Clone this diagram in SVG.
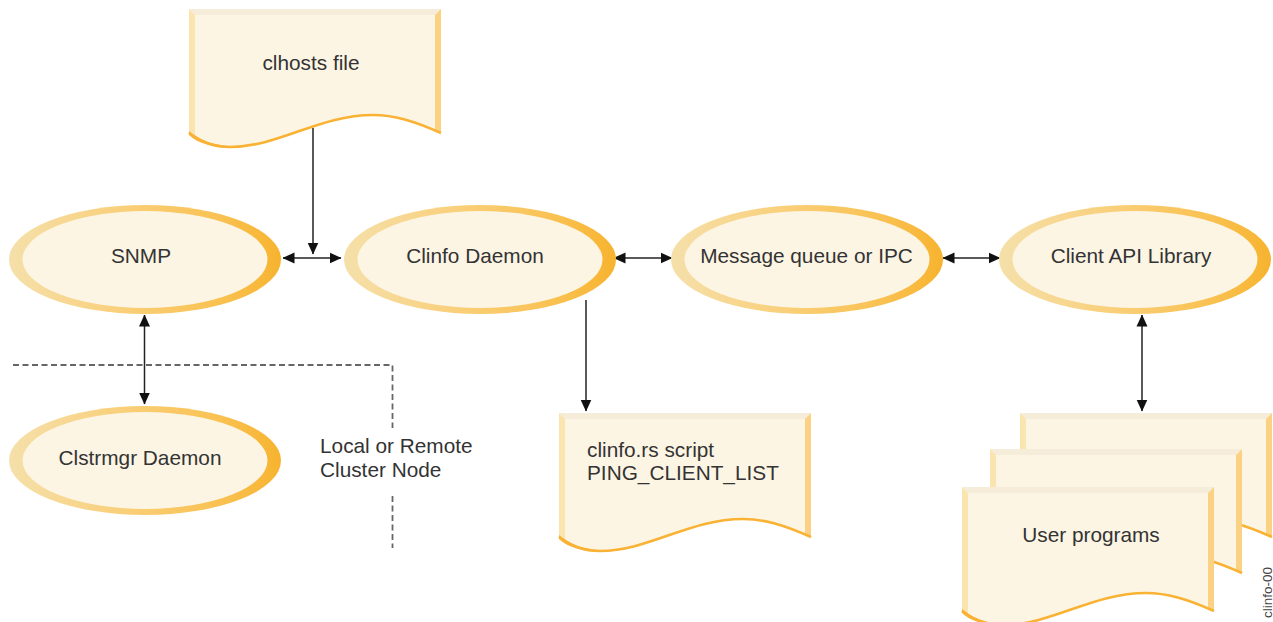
<svg xmlns="http://www.w3.org/2000/svg" width="1273" height="622" viewBox="0 0 1273 622">
<style>
text{font-family:"Liberation Sans",Arial,sans-serif;font-size:20.800px;fill:#333}
.m{text-anchor:middle}
.conn{fill:none;stroke:#222;stroke-width:1.500}
.dash{fill:none;stroke:#666;stroke-width:1.800;stroke-dasharray:6 3.500}
.inner{fill:#fdf5e4}
.outer{fill:url(#ring)}
</style>
<defs>
<linearGradient id="ring" x1="0" y1="0" x2="1" y2="0">
<stop offset="0" stop-color="#f5e0aa"/><stop offset=".4" stop-color="#f9d07c"/><stop offset=".8" stop-color="#f9c04e"/><stop offset="1" stop-color="#f7b32f"/>
</linearGradient>
<marker id="a" viewBox="0 0 12 12" refX="11.500" refY="6" markerWidth="12" markerHeight="12" markerUnits="userSpaceOnUse" orient="auto-start-reverse"><path d="M0,0.500 L12,6 L0,11.500Z" fill="#111"/></marker>
<clipPath id="dc"><path d="M0,0H252V124C225,112 205,106 184,106C130,106 90,138 41,138C22,138 10,132 0,124Z"/></clipPath>
<g id="doc">
<path d="M0,0H252V124C225,112 205,106 184,106C130,106 90,138 41,138C22,138 10,132 0,124Z" fill="#fdf5e4"/>
<g clip-path="url(#dc)">
<path d="M0,0H252L246,6H6Z" fill="#f5ecd9"/>
<path d="M0,0L6,6V140H0Z" fill="#fae5b0"/>
<path d="M252,0L246,6V130H252Z" fill="#fbd283"/>
</g>
<path d="M252,124C225,112 205,106 184,106C130,106 90,138 41,138C22,138 10,132 0,124" fill="none" stroke="#f9b233" stroke-width="2.600"/>
<path d="M0,122C10,130 22,136 41,137L60,137C40,141 12,138 0,126Z" fill="#f9b233"/>
</g>
</defs>
<g id="connectors">
<path class="conn" d="M313,128V254" marker-end="url(#a)"/>
<path class="conn" d="M283,258H341" marker-start="url(#a)" marker-end="url(#a)"/>
<path class="conn" d="M144.500,315V404" marker-start="url(#a)" marker-end="url(#a)"/>
<path class="conn" d="M614,258H672" marker-start="url(#a)" marker-end="url(#a)"/>
<path class="conn" d="M943,258H1000" marker-start="url(#a)" marker-end="url(#a)"/>
<path class="conn" d="M586,300V411" marker-end="url(#a)"/>
<path class="conn" d="M1142,315V411" marker-start="url(#a)" marker-end="url(#a)"/>
<path class="dash" d="M13,365H392.500V428"/>
<path class="dash" d="M392.500,496V548"/>
</g>
<g id="clhosts"><use href="#doc" x="189" y="9"/><text class="m" x="311" y="70">clhosts file</text></g>
<g id="snmp"><ellipse class="outer" cx="145" cy="259.500" rx="136" ry="54.500"/><ellipse class="inner" cx="145" cy="259.500" rx="122.500" ry="48.500"/><text class="m" x="141" y="263">SNMP</text></g>
<g id="clinfo"><ellipse class="outer" cx="480" cy="259.500" rx="136" ry="54.500"/><ellipse class="inner" cx="480" cy="259.500" rx="122.500" ry="48.500"/><text class="m" x="475" y="263">Clinfo Daemon</text></g>
<g id="mq"><ellipse class="outer" cx="807" cy="259.500" rx="136" ry="54.500"/><ellipse class="inner" cx="807" cy="259.500" rx="122.500" ry="48.500"/><text class="m" x="806.500" y="263">Message queue or IPC</text></g>
<g id="api"><ellipse class="outer" cx="1135" cy="259.500" rx="136" ry="54.500"/><ellipse class="inner" cx="1135" cy="259.500" rx="122.500" ry="48.500"/><text class="m" x="1131" y="263">Client API Library</text></g>
<g id="clstrmgr"><ellipse class="outer" cx="145" cy="460.500" rx="136" ry="54.500"/><ellipse class="inner" cx="145" cy="460.500" rx="122.500" ry="48.500"/><text class="m" x="140" y="465">Clstrmgr Daemon</text></g>
<g id="cluster-label"><text x="320" y="453">Local or Remote</text><text x="320" y="477">Cluster Node</text></g>
<g id="script"><use href="#doc" x="559" y="413"/><text x="587" y="457">clinfo.rs script</text><text x="587" y="480">PING_CLIENT_LIST</text></g>
<g id="user-programs"><use href="#doc" x="1020" y="413"/><use href="#doc" x="990" y="449"/><use href="#doc" x="962" y="487"/><text class="m" x="1091" y="542">User programs</text></g>
<text id="fig-id" transform="translate(1272,618) rotate(-90)" style="font-size:13.500px;fill:#444">clinfo-00</text>
</svg>
